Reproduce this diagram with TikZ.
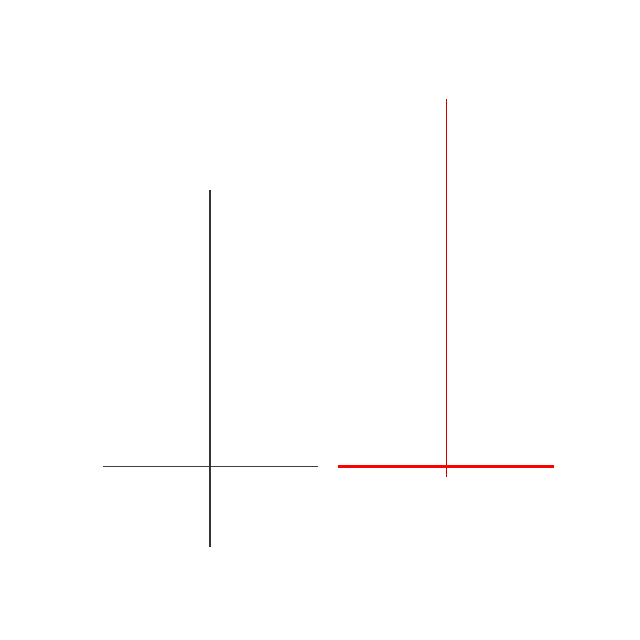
\documentclass[tikz,border=0pt]{standalone}
\begin{document}
\begin{tikzpicture}[x=1pt,y=-1pt,
  blackthin/.style={draw=black!75,line width=0.8pt},
  blackvert/.style={draw=black!80,line width=1.1pt},
  redthin/.style={draw=red!80!black,line width=1pt},
  redthick/.style={draw=red,line width=2.4pt}]
\useasboundingbox (0,0) rectangle (640,640);
\coordinate (bl) at (103,466.5);
\coordinate (br) at (318,466.5);
\coordinate (bt) at (210,190);
\coordinate (bb) at (210,547);
\coordinate (rl) at (338,466.5);
\coordinate (rr) at (554,466.5);
\coordinate (rt) at (446,99);
\coordinate (rb) at (446,477);
\draw[blackthin] (bl) -- (br);
\draw[blackvert] (bt) -- (bb);
\draw[redthin] (rt) -- (rb);
\draw[redthick] (rl) -- (rr);
\end{tikzpicture}
\end{document}
